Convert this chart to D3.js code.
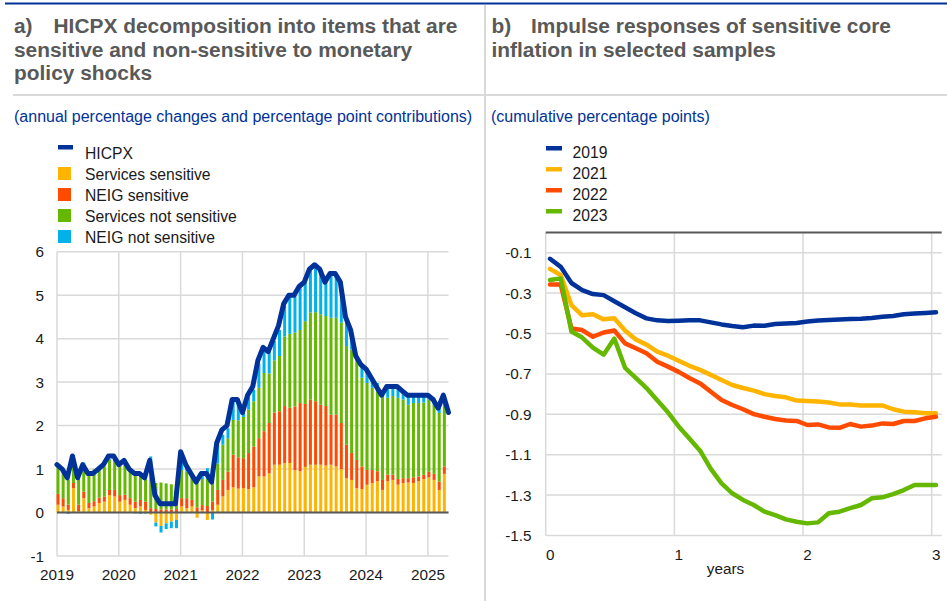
<!DOCTYPE html>
<html>
<head>
<meta charset="utf-8">
<script src="https://cdn.jsdelivr.net/npm/d3@7/dist/d3.min.js"></script>
<style>
    body { margin: 0; background: #fff; }
    svg text { font-family: "Liberation Sans", Arial, sans-serif; }
</style>
</head>
<body>
<div id="chart"></div>
<script>

// ---- panel a: monthly data, Jan 2019 - Apr 2025 (bars), line to May 2025
const hicpx = [
    1.1, 1.0, 0.8, 1.3, 0.8, 1.1, 0.9, 0.9, 1.0, 1.1, 1.3, 1.3,
    1.1, 1.2, 1.0, 0.9, 0.9, 0.8, 1.2, 0.4, 0.2, 0.2, 0.2, 0.2,
    1.4, 1.1, 0.9, 0.7, 0.9, 0.9, 0.7, 1.6, 1.9, 2.0, 2.6, 2.6,
    2.3, 2.7, 2.9, 3.5, 3.8, 3.7, 4.0, 4.3, 4.8, 5.0, 5.0, 5.2,
    5.3, 5.6, 5.7, 5.6, 5.3, 5.5, 5.5, 5.3, 4.5, 4.2, 3.6, 3.4,
    3.3, 3.1, 2.9, 2.7, 2.9, 2.9, 2.9, 2.8, 2.7, 2.7, 2.7, 2.7,
    2.7, 2.6, 2.4, 2.7, 2.3
];
const servicesSensitive = [
    0.18, 0.14, 0.06, 0.56, 0.03, 0.33, 0.10, 0.14, 0.22, 0.25, 0.40, 0.37,
    0.25, 0.29, 0.18, 0.10, 0.14, 0.06, -0.05, -0.23, -0.31, -0.25, -0.21, -0.17,
    0.14, 0.10, 0.14, -0.12, 0.05, -0.17, 0.05, 0.18, 0.37, 0.52, 0.58, 0.55,
    0.56, 0.54, 0.58, 0.83, 0.83, 0.90, 1.10, 1.10, 1.14, 1.14, 0.97, 0.95,
    1.05, 1.10, 1.10, 1.10, 1.08, 1.10, 1.06, 1.00, 0.79, 0.75, 0.56, 0.54,
    0.64, 0.68, 0.72, 0.52, 0.72, 0.75, 0.64, 0.68, 0.69, 0.68, 0.72, 0.77,
    0.81, 0.75, 0.52, 0.89
];
const neigSensitive = [
    0.25, 0.19, 0.12, 0.12, 0.15, 0.15, 0.12, 0.12, 0.12, 0.12, 0.12, 0.15,
    0.15, 0.12, 0.15, 0.15, 0.15, 0.19, 0.10, 0.08, 0.07, 0.07, 0.07, 0.08,
    0.19, 0.23, 0.15, 0.12, 0.12, 0.15, 0.20, 0.34, 0.38, 0.42, 0.75, 0.72,
    0.69, 0.83, 0.94, 0.88, 1.04, 1.16, 1.20, 1.23, 1.31, 1.27, 1.47, 1.57,
    1.45, 1.50, 1.46, 1.38, 1.37, 1.15, 1.19, 1.06, 0.77, 0.62, 0.65, 0.52,
    0.34, 0.30, 0.23, 0.23, 0.15, 0.12, 0.13, 0.11, 0.10, 0.13, 0.11, 0.10,
    0.13, 0.14, 0.19, 0.17
];
const servicesNotSensitive = [
    0.62, 0.65, 0.58, 0.60, 0.62, 0.65, 0.69, 0.73, 0.69, 0.69, 0.69, 0.77,
    0.72, 0.80, 0.69, 0.69, 0.62, 0.62, 1.04, 0.60, 0.62, 0.60, 0.58, 0.58,
    0.65, 0.61, 0.54, 0.63, 0.60, 0.62, 0.45, 0.61, 0.81, 0.77, 0.80, 0.85,
    0.95, 1.00, 1.04, 1.16, 1.34, 1.14, 1.20, 1.27, 1.60, 1.70, 1.70, 1.68,
    1.90, 2.00, 2.05, 2.08, 2.07, 2.23, 2.23, 2.31, 2.27, 2.38, 2.30, 2.04,
    2.00, 1.89, 1.84, 1.93, 1.77, 1.81, 1.87, 1.81, 1.69, 1.71, 1.69, 1.66,
    1.66, 1.59, 1.58, 1.50
];
const neigNotSensitive = [
    0.02, 0.00, -0.03, 0.03, 0.00, 0.02, 0.00, 0.00, 0.00, 0.00, 0.02, 0.02,
    0.00, 0.00, 0.00, -0.02, -0.03, -0.02, 0.15, -0.09, -0.15, -0.13, -0.15, -0.19,
    0.20, 0.08, 0.08, 0.03, 0.10, 0.25, -0.16, 0.47, 0.23, 0.23, 0.47, 0.48,
    0.20, 0.30, 0.27, 0.55, 0.50, 0.50, 0.45, 0.60, 0.70, 0.85, 0.85, 1.00,
    0.90, 1.00, 1.07, 1.00, 0.80, 1.00, 1.02, 0.93, 0.67, 0.39, 0.10, 0.30,
    0.31, 0.23, 0.19, 0.07, 0.31, 0.25, 0.27, 0.19, 0.20, 0.16, 0.23, 0.18,
    0.08, 0.16, 0.11, 0.10
];
const yearLabels = ['2019', '2020', '2021', '2022', '2023', '2024', '2025'];
const yTicksA = [-1, 0, 1, 2, 3, 4, 5, 6];

// ---- panel b: impulse responses, months 0..36
const irf2019 = [-0.13, -0.17, -0.25, -0.285, -0.305, -0.31, -0.34, -0.37, -0.40, -0.425, -0.435, -0.438,
    -0.437, -0.435, -0.435, -0.445, -0.455, -0.463, -0.469, -0.461, -0.462, -0.453, -0.45, -0.448,
    -0.441, -0.436, -0.433, -0.431, -0.428, -0.427, -0.423, -0.417, -0.413, -0.405, -0.401, -0.398, -0.395];
const irf2021 = [-0.18, -0.21, -0.36, -0.41, -0.405, -0.43, -0.425, -0.485, -0.53, -0.555, -0.59, -0.61,
    -0.635, -0.66, -0.68, -0.705, -0.73, -0.755, -0.77, -0.783, -0.80, -0.809, -0.816, -0.832,
    -0.834, -0.837, -0.842, -0.851, -0.851, -0.856, -0.856, -0.856, -0.875, -0.887, -0.89, -0.895, -0.895];
const irf2022 = [-0.257, -0.257, -0.475, -0.483, -0.516, -0.495, -0.485, -0.549, -0.573, -0.598, -0.64, -0.664,
    -0.69, -0.72, -0.747, -0.788, -0.829, -0.854, -0.875, -0.899, -0.912, -0.923, -0.931, -0.933,
    -0.953, -0.95, -0.965, -0.967, -0.948, -0.961, -0.956, -0.945, -0.948, -0.933, -0.933, -0.92, -0.912];
const irf2023 = [-0.235, -0.227, -0.49, -0.52, -0.57, -0.605, -0.525, -0.67, -0.72, -0.77, -0.83, -0.89,
    -0.96, -1.02, -1.08, -1.17, -1.242, -1.291, -1.324, -1.349, -1.382, -1.399, -1.42, -1.432,
    -1.44, -1.435, -1.39, -1.382, -1.365, -1.349, -1.316, -1.311, -1.295, -1.275, -1.25, -1.25, -1.25];
const yTicksB = [-0.1, -0.3, -0.5, -0.7, -0.9, -1.1, -1.3, -1.5];
const yTickLabelsB = ['-0.1', '-0.3', '-0.5', '-0.7', '-0.9', '-1.1', '-1.3', '-1.5'];
const xTickLabelsB = ['0', '1', '2', '3'];

const colors = {
    blue: '#003299',
    yellow: '#ffb400',
    red: '#ff4b00',
    green: '#65b800',
    cyan: '#00b1ea'
};
const grid = '#d9d9d9';
const axisDark = '#595959';
const textCol = '#1a1a1a';

const svg = d3.select('#chart')
    .append('svg')
    .attr('width', 947)
    .attr('height', 601);

// frame: blue top rule, separators
svg.append('line')
    .attr('x1', 5).attr('x2', 947).attr('y1', 3.5).attr('y2', 3.5)
    .style('stroke', colors.blue).style('stroke-width', 2);
svg.append('line')
    .attr('x1', 13).attr('x2', 947).attr('y1', 95).attr('y2', 95)
    .style('stroke', grid).style('stroke-width', 2);
svg.append('line')
    .attr('x1', 485).attr('x2', 485).attr('y1', 5).attr('y2', 601)
    .style('stroke', grid).style('stroke-width', 2);

// titles
const drawTitle = (x, label, lines) => {
    const t = svg.append('text')
        .style('font-size', '20.9px')
        .style('font-weight', 'bold')
        .style('fill', '#595959');
    lines.forEach((line, i) => {
        if (i === 0) {
            t.append('tspan').attr('x', x).attr('y', 33).text(label);
            t.append('tspan').attr('x', x + 39.5).attr('y', 33).text(line);
        } else {
            t.append('tspan').attr('x', x).attr('y', 33 + i * 23.5).text(line);
        }
    });
};
drawTitle(14, 'a)', ['HICPX decomposition into items that are', 'sensitive and non-sensitive to monetary', 'policy shocks']);
drawTitle(491.5, 'b)', ['Impulse responses of sensitive core', 'inflation in selected samples']);

svg.append('text')
    .attr('x', 14).attr('y', 122)
    .style('font-size', '16px').style('fill', colors.blue)
    .text('(annual percentage changes and percentage point contributions)');
svg.append('text')
    .attr('x', 491).attr('y', 122)
    .style('font-size', '16px').style('fill', colors.blue)
    .text('(cumulative percentage points)');

// ================= panel a =================
const xA = d3.scaleLinear().domain([0, 76]).range([57, 448.5]);
const yA = d3.scaleLinear().domain([-1, 6]).range([556, 251.7]);

const gA = svg.append('g');

// grid
gA.selectAll('.hgrid')
    .data(yTicksA)
    .enter()
    .append('line')
    .attr('x1', xA(0)).attr('x2', xA(76))
    .attr('y1', d => yA(d)).attr('y2', d => yA(d))
    .style('stroke', grid).style('stroke-width', 1.5);
gA.selectAll('.vgrid')
    .data(yearLabels)
    .enter()
    .append('line')
    .attr('x1', (d, i) => xA(i * 12)).attr('x2', (d, i) => xA(i * 12))
    .attr('y1', yA(6)).attr('y2', yA(-1))
    .style('stroke', grid).style('stroke-width', 1.5);

// stacked bars
const keys = ['ss', 'ns', 'sn', 'nn'];
const keyColor = {ss: colors.yellow, ns: colors.red, sn: colors.green, nn: colors.cyan};
const rows = servicesSensitive.map((v, i) => ({
    i: i,
    ss: v,
    ns: neigSensitive[i],
    sn: servicesNotSensitive[i],
    nn: neigNotSensitive[i]
}));
const stacked = d3.stack().keys(keys).offset(d3.stackOffsetDiverging)(rows);

gA.append('g')
    .selectAll('g')
    .data(stacked)
    .enter()
    .append('g')
    .style('fill', d => keyColor[d.key])
    .selectAll('rect')
    .data(d => d)
    .enter()
    .append('rect')
    .attr('x', d => xA(d.data.i) - 0.5)
    .attr('width', 3)
    .attr('y', d => yA(Math.max(d[0], d[1])))
    .attr('height', d => Math.abs(yA(d[0]) - yA(d[1])));

// zero line
gA.append('line')
    .attr('x1', xA(0)).attr('x2', xA(76))
    .attr('y1', yA(0)).attr('y2', yA(0))
    .style('stroke', axisDark).style('stroke-width', 2);

// HICPX line
gA.append('path')
    .datum(hicpx)
    .attr('d', d3.line().x((d, i) => xA(i)).y(d => yA(d)))
    .style('fill', 'none')
    .style('stroke', colors.blue)
    .style('stroke-width', 5)
    .style('stroke-linejoin', 'round')
    .style('stroke-linecap', 'round');

// axis labels
gA.selectAll('.ylab')
    .data(yTicksA)
    .enter()
    .append('text')
    .attr('x', 44).attr('y', d => yA(d))
    .attr('dy', '0.36em')
    .attr('text-anchor', 'end')
    .style('font-size', '15.3px').style('fill', textCol)
    .text(d => d);
gA.selectAll('.xlab')
    .data(yearLabels)
    .enter()
    .append('text')
    .attr('x', (d, i) => xA(i * 12)).attr('y', 580)
    .attr('text-anchor', 'middle')
    .style('font-size', '15.3px').style('fill', textCol)
    .text(d => d);

// legend a
const legendA = [
    {name: 'HICPX', color: colors.blue, line: true},
    {name: 'Services sensitive', color: colors.yellow},
    {name: 'NEIG sensitive', color: colors.red},
    {name: 'Services not sensitive', color: colors.green},
    {name: 'NEIG not sensitive', color: colors.cyan}
];
const legA = gA.append('g')
    .selectAll('g')
    .data(legendA)
    .enter()
    .append('g')
    .attr('transform', (d, i) => `translate(0, ${159 + i * 21})`);
legA.append('rect')
    .attr('x', 58)
    .attr('y', d => d.line ? -14 : -13)
    .attr('width', d => d.line ? 15 : 13)
    .attr('height', d => d.line ? 4.5 : 13)
    .style('fill', d => d.color);
legA.append('text')
    .attr('x', 85).attr('y', 0)
    .style('font-size', '15.7px').style('fill', textCol)
    .text(d => d.name);

// ================= panel b =================
const xB = d3.scaleLinear().domain([0, 36]).range([545.7, 931.7]);
const yB = d3.scaleLinear().domain([-1.5, 0]).range([535.5, 232.5]);
const rightEdge = 941.7;

const gB = svg.append('g');

gB.selectAll('.hgrid')
    .data(yTicksB)
    .enter()
    .append('line')
    .attr('x1', xB(0)).attr('x2', rightEdge)
    .attr('y1', d => yB(d)).attr('y2', d => yB(d))
    .style('stroke', grid).style('stroke-width', 1.5);
gB.selectAll('.vgrid')
    .data(xTickLabelsB)
    .enter()
    .append('line')
    .attr('x1', (d, i) => xB(i * 12)).attr('x2', (d, i) => xB(i * 12))
    .attr('y1', yB(0)).attr('y2', yB(-1.5))
    .style('stroke', grid).style('stroke-width', 1.5);

gB.append('line')
    .attr('x1', xB(0)).attr('x2', rightEdge)
    .attr('y1', yB(0)).attr('y2', yB(0))
    .style('stroke', axisDark).style('stroke-width', 2);

const seriesB = [
    {name: '2019', values: irf2019, color: colors.blue},
    {name: '2021', values: irf2021, color: colors.yellow},
    {name: '2022', values: irf2022, color: colors.red},
    {name: '2023', values: irf2023, color: colors.green}
];

// monthly points sit in the middle of their month slot
const lineB = d3.line().x((d, i) => xB(i + 0.4)).y(d => yB(d));
gB.selectAll('.irf')
    .data(seriesB)
    .enter()
    .append('path')
    .attr('d', d => lineB(d.values))
    .style('fill', 'none')
    .style('stroke', d => d.color)
    .style('stroke-width', 4.5)
    .style('stroke-linejoin', 'round')
    .style('stroke-linecap', 'round');

gB.selectAll('.ylab')
    .data(yTicksB)
    .enter()
    .append('text')
    .attr('x', 531.5).attr('y', d => yB(d))
    .attr('dy', '0.36em')
    .attr('text-anchor', 'end')
    .style('font-size', '15.3px').style('fill', textCol)
    .text((d, i) => yTickLabelsB[i]);
gB.selectAll('.xlab')
    .data(xTickLabelsB)
    .enter()
    .append('text')
    .attr('x', (d, i) => xB(i * 12) + 4.5).attr('y', 560)
    .attr('text-anchor', 'middle')
    .style('font-size', '15.3px').style('fill', textCol)
    .text(d => d);
gB.append('text')
    .attr('x', 725.5).attr('y', 574)
    .attr('text-anchor', 'middle')
    .style('font-size', '15.3px').style('fill', textCol)
    .text('years');

// legend b
const legB = gB.append('g')
    .selectAll('g')
    .data(seriesB)
    .enter()
    .append('g')
    .attr('transform', (d, i) => `translate(0, ${158 + i * 21})`);
legB.append('rect')
    .attr('x', 546).attr('y', -12)
    .attr('width', 16).attr('height', 4.5)
    .style('fill', d => d.color);
legB.append('text')
    .attr('x', 572.5).attr('y', 0)
    .style('font-size', '15.7px').style('fill', textCol)
    .text(d => d.name);

</script>
</body>
</html>
